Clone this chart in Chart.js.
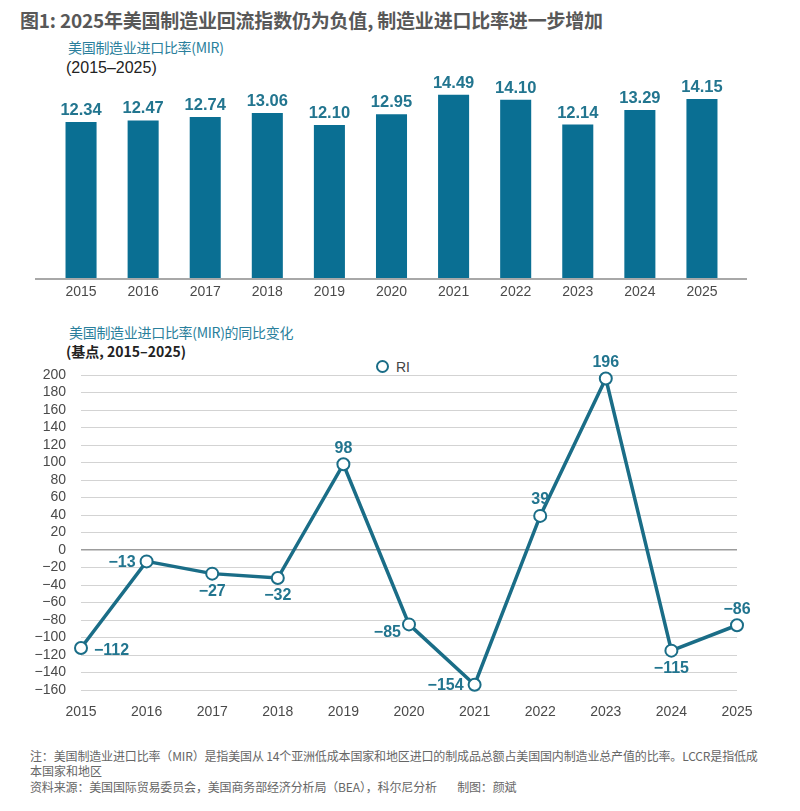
<!DOCTYPE html>
<html><head><meta charset="utf-8">
<script src="https://cdn.jsdelivr.net/npm/chart.js@4.4.1/dist/chart.umd.min.js"></script>
<style>
html,body{margin:0;padding:0;}
body{width:800px;height:811px;background:#fff;position:relative;overflow:hidden;font-family:"Noto Sans CJK SC","Liberation Sans",sans-serif;}
.t{position:absolute;white-space:nowrap;}
canvas{position:absolute;left:0;}
</style></head><body>
<div class="t" style="left:20px;top:8px;font-size:19px;font-weight:bold;color:#585858;line-height:24px;letter-spacing:-0.2px">图1: 2025年美国制造业回流指数仍为负值, 制造业进口比率进一步增加</div>
<div class="t" style="left:68px;top:38px;font-size:14px;color:#2a7f9c;line-height:18px;letter-spacing:-0.3px">美国制造业进口比率(MIR)</div>
<div class="t" style="left:66px;top:58px;font-size:16px;color:#222;line-height:20px;font-family:'Liberation Sans',sans-serif">(2015–2025)</div>

<canvas id="c1" width="800" height="250" style="top:60px;width:800px;height:250px"></canvas>

<div class="t" style="left:69px;top:323px;font-size:14px;color:#2a7f9c;line-height:18px;letter-spacing:-0.3px">美国制造业进口比率(MIR)的同比变化</div>
<div class="t" style="left:66px;top:342px;font-size:14px;color:#222;font-weight:bold;line-height:18px">(基点, 2015–2025)</div>
<div class="t" style="left:376px;top:358px;font-size:14px;color:#444;line-height:18px;font-family:'Liberation Sans',sans-serif"><span style="display:inline-block;width:9px;height:9px;border:2px solid #1a6d87;border-radius:50%;vertical-align:-1px;margin-right:7px"></span>RI</div>

<canvas id="c2" width="800" height="400" style="top:330px;width:800px;height:400px"></canvas>

<div class="t" style="left:30px;top:748px;font-size:12px;color:#666;line-height:15px;letter-spacing:-0.15px">注：美国制造业进口比率（MIR）是指美国从 14个亚洲低成本国家和地区进口的制成品总额占美国国内制造业总产值的比率。LCCR是指低成</div>
<div class="t" style="left:30px;top:763px;font-size:12px;color:#666;line-height:15px">本国家和地区</div>
<div class="t" style="left:30px;top:779px;font-size:12px;color:#666;line-height:15px;letter-spacing:-0.15px">资料来源：美国国际贸易委员会，美国商务部经济分析局（BEA），科尔尼分析&nbsp;&nbsp;&nbsp;&nbsp;&nbsp;&nbsp;&nbsp;&nbsp;制图：颜斌</div>

<script>
// ---- data ----
const years = ['2015','2016','2017','2018','2019','2020','2021','2022','2023','2024','2025'];
const mirValues = [12.34, 12.47, 12.74, 13.06, 12.10, 12.95, 14.49, 14.10, 12.14, 13.29, 14.15];
const riValues = [-112, -13, -27, -32, 98, -85, -154, 39, 196, -115, -86];
const riTicks = [200,180,160,140,120,100,80,60,40,20,0,-20,-40,-60,-80,-100,-120,-140,-160];
const riLabelPlace = ['right','left','below','below','above','leftlow','left','above','above','below','above'];

// ---- styles ----
const BAR = '#0a6f93';
const LINE = '#1a6d87';
const LABEL = '#22758f';
const TICK = '#4a4a4a';
const FONT = '"Liberation Sans", Arial, sans-serif';
const minus = s => String(s).replace('-', '−');

Chart.defaults.font.family = FONT;

const barLabels = {
  id: 'barLabels',
  afterDatasetsDraw(chart) {
    const ctx = chart.ctx, meta = chart.getDatasetMeta(0);
    ctx.save();
    ctx.font = 'bold 16.5px ' + FONT;
    ctx.fillStyle = LABEL;
    ctx.textAlign = 'center';
    ctx.textBaseline = 'alphabetic';
    meta.data.forEach((el, i) => ctx.fillText(mirValues[i].toFixed(2), el.x, el.y - 7));
    ctx.restore();
  }
};
const baseline = {
  id: 'baseline',
  afterDatasetsDraw(chart) {
    const ctx = chart.ctx, y = chart.scales.y.getPixelForValue(0);
    ctx.save();
    ctx.strokeStyle = '#a8a8a8';
    ctx.lineWidth = 2;
    ctx.beginPath(); ctx.moveTo(35, y); ctx.lineTo(747, y); ctx.stroke();
    ctx.restore();
  }
};

new Chart(document.getElementById('c1'), {
  type: 'bar',
  data: { labels: years, datasets: [{ data: mirValues, backgroundColor: BAR, barPercentage: 0.5, categoryPercentage: 1 }] },
  options: {
    responsive: false, animation: false,
    layout: { padding: { left: 50, right: 67, top: 15.5, bottom: 6 } },
    plugins: { legend: { display: false }, tooltip: { enabled: false } },
    scales: {
      x: {
        grid: { display: false, drawTicks: false, tickLength: 0 },
        border: { display: false },
        ticks: { color: TICK, font: { size: 14 }, padding: 5, maxRotation: 0, autoSkip: false },
        afterFit: s => { s.height = 25; }
      },
      y: { display: false, min: 0, max: 16 }
    }
  },
  plugins: [baseline, barLabels]
});

const lineLabels = {
  id: 'lineLabels',
  afterDatasetsDraw(chart) {
    const ctx = chart.ctx, meta = chart.getDatasetMeta(0);
    ctx.save();
    ctx.font = 'bold 16px ' + FONT;
    ctx.fillStyle = LABEL;
    ctx.textBaseline = 'middle';
    meta.data.forEach((el, i) => {
      const txt = minus(riValues[i]);
      const p = riLabelPlace[i];
      let x = el.x, y = el.y;
      if (p === 'right') { ctx.textAlign = 'left'; x += 13; y += 3; }
      else if (p === 'left') { ctx.textAlign = 'right'; x -= 11; y += 1; }
      else if (p === 'leftlow') { ctx.textAlign = 'right'; x -= 8; y += 8; }
      else if (p === 'below') { ctx.textAlign = 'center'; y += 18; }
      else { ctx.textAlign = 'center'; y -= 16; }
      ctx.fillText(txt, x, y);
    });
    ctx.restore();
  }
};

new Chart(document.getElementById('c2'), {
  type: 'line',
  data: { labels: years, datasets: [{
    label: 'RI', data: riValues, borderColor: LINE, borderWidth: 3.5,
    pointRadius: 6, pointBorderWidth: 2, pointBackgroundColor: '#fff', pointBorderColor: LINE,
    tension: 0, clip: false
  }] },
  options: {
    responsive: false, animation: false,
    layout: { padding: { left: 0, right: 63, top: 45, bottom: 10 } },
    plugins: { legend: { display: false }, tooltip: { enabled: false } },
    scales: {
      x: {
        offset: false,
        grid: { display: false, drawTicks: false, tickLength: 0 },
        border: { display: false },
        ticks: { color: TICK, font: { size: 14 }, padding: 14, maxRotation: 0, autoSkip: false },
        afterFit: s => { s.height = 30; }
      },
      y: {
        min: -160, max: 200,
        afterBuildTicks: s => { s.ticks = riTicks.map(v => ({ value: v })); },
        grid: {
          drawTicks: false, tickLength: 0,
          color: c => c.tick && c.tick.value === 0 ? '#9c9c9c' : '#d3d3d3',
          lineWidth: c => c.tick && c.tick.value === 0 ? 1.5 : 1
        },
        border: { display: false },
        ticks: { color: TICK, font: { size: 14 }, padding: 15, autoSkip: false, callback: v => minus(v) },
        afterFit: s => { s.width = 81; }
      }
    }
  },
  plugins: [lineLabels]
});
</script>
</body></html>
